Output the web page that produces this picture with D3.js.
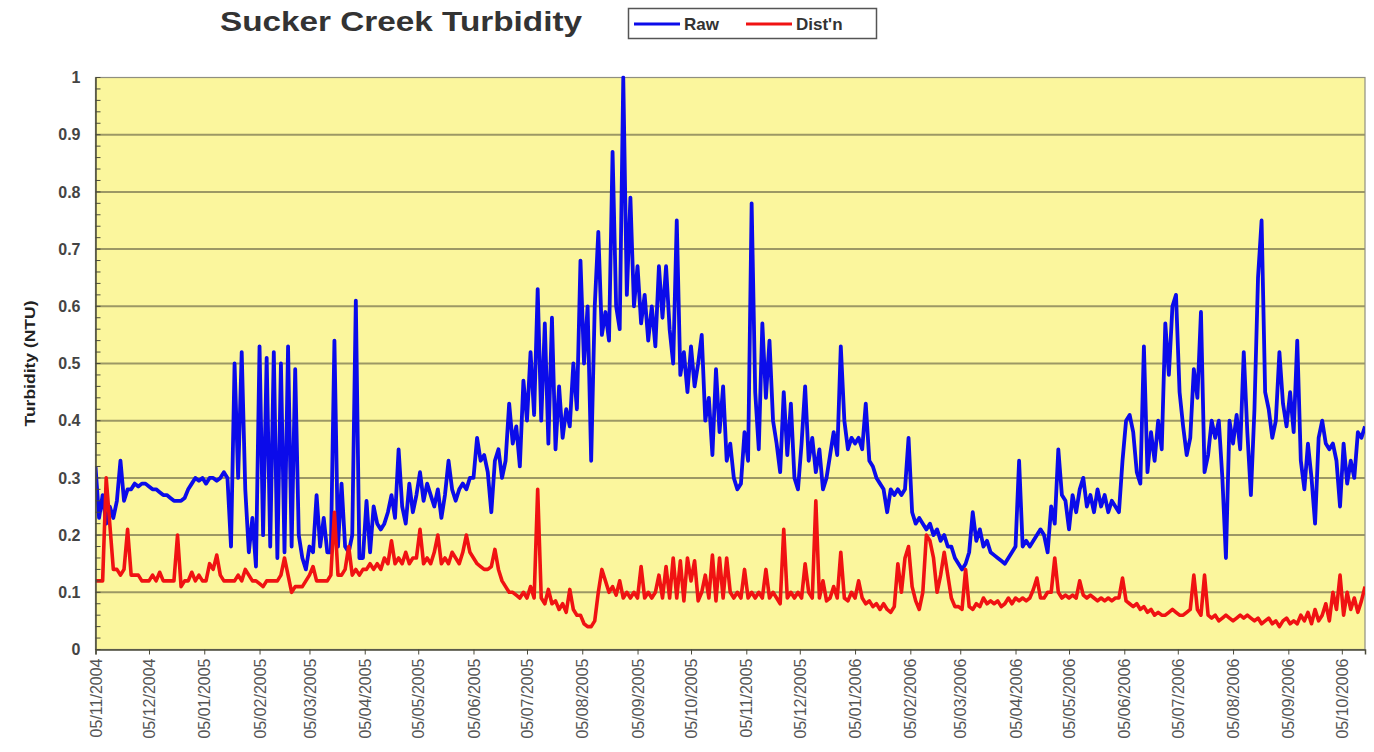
<!DOCTYPE html>
<html>
<head>
<meta charset="utf-8">
<script src="https://cdn.jsdelivr.net/npm/d3@7"></script>
<style>
  html, body { margin: 0; padding: 0; background: #ffffff; }
  svg { display: block; }
  text { font-family: "Liberation Sans", Arial, sans-serif; }
</style>
</head>
<body>
<svg id="chart" width="1374" height="752"></svg>
<script>
// Sucker Creek turbidity (NTU), readings every second day from 05/11/2004
const startDate = new Date(2004, 10, 5);
const stepDays = 2;
const endDate = new Date(2006, 9, 18);

const rawTurbidity = [
  0.32, 0.23, 0.27, 0.22, 0.25, 0.23, 0.26, 0.33, 0.26, 0.28, 0.28, 0.29, 0.285, 0.29, 0.29,
  0.285, 0.28, 0.28, 0.275, 0.27, 0.27, 0.265, 0.26, 0.26, 0.26, 0.265, 0.28, 0.29, 0.30, 0.295,
  0.30, 0.29, 0.30, 0.30, 0.295, 0.30, 0.31, 0.30, 0.18, 0.50, 0.30, 0.52, 0.28, 0.17, 0.23,
  0.145, 0.53, 0.20, 0.51, 0.18, 0.52, 0.16, 0.50, 0.17, 0.53, 0.18, 0.49, 0.20, 0.16, 0.14,
  0.18, 0.17, 0.27, 0.18, 0.23, 0.17, 0.17, 0.54, 0.18, 0.29, 0.18, 0.17, 0.20, 0.61, 0.16,
  0.16, 0.26, 0.17, 0.25, 0.22, 0.21, 0.22, 0.24, 0.27, 0.23, 0.35, 0.25, 0.22, 0.29, 0.24,
  0.27, 0.31, 0.26, 0.29, 0.27, 0.25, 0.28, 0.23, 0.27, 0.33, 0.28, 0.26, 0.28, 0.29, 0.28,
  0.30, 0.30, 0.37, 0.33, 0.34, 0.31, 0.24, 0.33, 0.35, 0.30, 0.33, 0.43, 0.36, 0.39, 0.32,
  0.47, 0.40, 0.52, 0.41, 0.63, 0.40, 0.57, 0.36, 0.58, 0.35, 0.46, 0.37, 0.42, 0.39, 0.50,
  0.42, 0.68, 0.50, 0.60, 0.33, 0.60, 0.73, 0.55, 0.59, 0.54, 0.87, 0.60, 0.56, 1.00, 0.62,
  0.79, 0.60, 0.67, 0.57, 0.62, 0.54, 0.60, 0.53, 0.67, 0.58, 0.67, 0.56, 0.50, 0.75, 0.48,
  0.52, 0.45, 0.53, 0.46, 0.50, 0.55, 0.40, 0.44, 0.34, 0.49, 0.38, 0.46, 0.33, 0.36, 0.30,
  0.28, 0.29, 0.38, 0.33, 0.78, 0.45, 0.35, 0.57, 0.44, 0.54, 0.40, 0.36, 0.31, 0.45, 0.34,
  0.43, 0.30, 0.28, 0.36, 0.46, 0.33, 0.37, 0.31, 0.35, 0.28, 0.30, 0.34, 0.38, 0.34, 0.53,
  0.40, 0.35, 0.37, 0.36, 0.37, 0.35, 0.43, 0.33, 0.32, 0.30, 0.29, 0.28, 0.24, 0.28, 0.27,
  0.28, 0.27, 0.28, 0.37, 0.24, 0.22, 0.23, 0.22, 0.21, 0.22, 0.20, 0.21, 0.19, 0.20, 0.18,
  0.18, 0.16, 0.15, 0.14, 0.15, 0.17, 0.24, 0.19, 0.21, 0.18, 0.19, 0.17, 0.165, 0.16, 0.155,
  0.15, 0.16, 0.17, 0.18, 0.33, 0.18, 0.19, 0.18, 0.19, 0.20, 0.21, 0.20, 0.17, 0.25, 0.22,
  0.35, 0.27, 0.26, 0.21, 0.27, 0.24, 0.28, 0.30, 0.25, 0.27, 0.24, 0.28, 0.25, 0.27, 0.24,
  0.26, 0.25, 0.24, 0.33, 0.40, 0.41, 0.38, 0.31, 0.29, 0.53, 0.31, 0.38, 0.33, 0.40, 0.35,
  0.57, 0.48, 0.60, 0.62, 0.45, 0.39, 0.34, 0.37, 0.49, 0.44, 0.59, 0.31, 0.34, 0.40, 0.37,
  0.40, 0.30, 0.16, 0.40, 0.36, 0.41, 0.35, 0.52, 0.38, 0.27, 0.42, 0.65, 0.75, 0.45, 0.42,
  0.37, 0.40, 0.52, 0.43, 0.39, 0.45, 0.38, 0.54, 0.33, 0.28, 0.36, 0.30, 0.22, 0.37, 0.40,
  0.36, 0.35, 0.36, 0.33, 0.25, 0.36, 0.29, 0.33, 0.30, 0.38, 0.37, 0.39
];

const distTurbidity = [
  0.12, 0.12, 0.12, 0.30, 0.22, 0.14, 0.14, 0.13, 0.14, 0.21, 0.13, 0.13, 0.13, 0.12, 0.12,
  0.12, 0.13, 0.12, 0.135, 0.12, 0.12, 0.12, 0.12, 0.20, 0.11, 0.12, 0.12, 0.135, 0.12, 0.13,
  0.12, 0.12, 0.15, 0.14, 0.165, 0.13, 0.12, 0.12, 0.12, 0.12, 0.13, 0.12, 0.14, 0.13, 0.12,
  0.12, 0.115, 0.11, 0.12, 0.12, 0.12, 0.12, 0.13, 0.16, 0.13, 0.10, 0.11, 0.11, 0.11, 0.12,
  0.13, 0.145, 0.12, 0.12, 0.12, 0.12, 0.13, 0.24, 0.13, 0.13, 0.14, 0.18, 0.13, 0.14, 0.13,
  0.14, 0.14, 0.15, 0.14, 0.15, 0.14, 0.16, 0.15, 0.19, 0.15, 0.16, 0.15, 0.17, 0.15, 0.16,
  0.16, 0.21, 0.15, 0.16, 0.15, 0.17, 0.20, 0.15, 0.16, 0.15, 0.17, 0.16, 0.15, 0.17, 0.20,
  0.17, 0.16, 0.15, 0.145, 0.14, 0.14, 0.145, 0.175, 0.14, 0.12, 0.11, 0.10, 0.10, 0.095, 0.09,
  0.10, 0.09, 0.11, 0.09, 0.28, 0.09, 0.08, 0.105, 0.08, 0.085, 0.07, 0.08, 0.065, 0.105, 0.07,
  0.06, 0.06, 0.045, 0.04, 0.04, 0.05, 0.10, 0.14, 0.12, 0.10, 0.11, 0.095, 0.12, 0.09, 0.10,
  0.09, 0.10, 0.09, 0.145, 0.09, 0.10, 0.09, 0.10, 0.13, 0.09, 0.145, 0.09, 0.16, 0.09, 0.155,
  0.085, 0.16, 0.12, 0.155, 0.085, 0.10, 0.13, 0.09, 0.165, 0.085, 0.16, 0.09, 0.16, 0.10, 0.09,
  0.10, 0.09, 0.14, 0.09, 0.10, 0.09, 0.10, 0.09, 0.14, 0.09, 0.10, 0.09, 0.08, 0.21, 0.09,
  0.10, 0.09, 0.10, 0.09, 0.15, 0.10, 0.09, 0.26, 0.09, 0.12, 0.085, 0.09, 0.11, 0.09, 0.17,
  0.09, 0.085, 0.10, 0.09, 0.12, 0.09, 0.08, 0.085, 0.075, 0.08, 0.07, 0.08, 0.07, 0.065, 0.075,
  0.15, 0.10, 0.16, 0.18, 0.11, 0.085, 0.07, 0.10, 0.20, 0.19, 0.16, 0.10, 0.13, 0.17, 0.13,
  0.09, 0.075, 0.075, 0.07, 0.14, 0.075, 0.07, 0.08, 0.075, 0.09, 0.08, 0.085, 0.08, 0.085, 0.075,
  0.08, 0.09, 0.08, 0.09, 0.085, 0.09, 0.085, 0.09, 0.105, 0.125, 0.09, 0.09, 0.10, 0.10, 0.16,
  0.10, 0.09, 0.095, 0.09, 0.095, 0.09, 0.12, 0.095, 0.09, 0.095, 0.09, 0.085, 0.09, 0.085, 0.09,
  0.085, 0.09, 0.09, 0.125, 0.085, 0.08, 0.075, 0.08, 0.07, 0.075, 0.065, 0.07, 0.06, 0.065, 0.06,
  0.06, 0.065, 0.07, 0.065, 0.06, 0.06, 0.065, 0.07, 0.13, 0.07, 0.06, 0.13, 0.06, 0.055, 0.06,
  0.05, 0.055, 0.06, 0.055, 0.05, 0.055, 0.06, 0.055, 0.06, 0.055, 0.05, 0.055, 0.045, 0.05, 0.055,
  0.045, 0.05, 0.04, 0.05, 0.055, 0.045, 0.05, 0.045, 0.06, 0.05, 0.065, 0.045, 0.07, 0.05, 0.06,
  0.08, 0.05, 0.10, 0.07, 0.13, 0.06, 0.10, 0.07, 0.09, 0.065, 0.085, 0.11
];

const yTickValues = [0, 0.1, 0.2, 0.3, 0.4, 0.5, 0.6, 0.7, 0.8, 0.9, 1];
const monthTickCount = 24;

const titleText = "Sucker Creek Turbidity";
const yAxisTitle = "Turbidity (NTU)";
const seriesNames = ["Raw", "Dist'n"];
const seriesColors = ["#0b0bea", "#f01212"];

// ---- layout ----
const plot = { left: 95.5, right: 1365, top: 77.5, bottom: 649.5 };

const svg = d3.select("#chart");

const x = d3.scaleTime().domain([startDate, endDate]).range([plot.left, plot.right]);
const y = d3.scaleLinear().domain([0, 1]).range([plot.bottom, plot.top]);

const dateAt = i => d3.timeDay.offset(startDate, i * stepDays);
const rawPoints = rawTurbidity.map((v, i) => ({ date: dateAt(i), value: v }));
const distPoints = distTurbidity.map((v, i) => ({ date: dateAt(i), value: v }));

// plot background
svg.append("rect")
  .attr("x", plot.left).attr("y", plot.top)
  .attr("width", plot.right - plot.left).attr("height", plot.bottom - plot.top)
  .attr("fill", "#fbf69d");

// horizontal gridlines
svg.append("g")
  .selectAll("line")
  .data(yTickValues.filter(v => v > 0 && v < 1))
  .join("line")
  .attr("x1", plot.left).attr("x2", plot.right)
  .attr("y1", d => y(d)).attr("y2", d => y(d))
  .attr("stroke", "#9c9865").attr("stroke-width", 2);

// plot frame
svg.append("rect")
  .attr("x", plot.left).attr("y", plot.top)
  .attr("width", plot.right - plot.left).attr("height", plot.bottom - plot.top)
  .attr("fill", "none").attr("stroke", "#8f8f80").attr("stroke-width", 1.2);

// data lines, clipped to the plot
svg.append("clipPath").attr("id", "plotClip")
  .append("rect")
  .attr("x", plot.left).attr("y", plot.top - 2)
  .attr("width", plot.right - plot.left).attr("height", plot.bottom - plot.top + 2);

const line = d3.line().x(d => x(d.date)).y(d => y(d.value));
const lines = svg.append("g").attr("clip-path", "url(#plotClip)");
lines.append("path").datum(rawPoints)
  .attr("d", line).attr("fill", "none")
  .attr("stroke", seriesColors[0]).attr("stroke-width", 3.8)
  .attr("stroke-linejoin", "round");
lines.append("path").datum(distPoints)
  .attr("d", line).attr("fill", "none")
  .attr("stroke", seriesColors[1]).attr("stroke-width", 3.6)
  .attr("stroke-linejoin", "round");

// y axis with minor ticks every 0.02
const yAxis = d3.axisLeft(y).tickValues(yTickValues).tickSize(0).tickPadding(15)
  .tickFormat(d => d === 0 || d === 1 ? d3.format("d")(d) : d3.format(".1f")(d));
const yAxisG = svg.append("g").attr("transform", `translate(${plot.left},0)`).call(yAxis);
yAxisG.select(".domain").attr("stroke", "#4a4a3a").attr("stroke-width", 1.5);
yAxisG.selectAll("text")
  .attr("font-size", 16).attr("fill", "#444").attr("font-weight", "bold");

svg.append("g").selectAll("line")
  .data(d3.range(0, 51).map(k => k / 50))
  .join("line")
  .attr("x1", plot.left).attr("x2", plot.left + 5)
  .attr("y1", d => y(d)).attr("y2", d => y(d))
  .attr("stroke", "#4a4a3a").attr("stroke-width", 1);

// x axis: monthly ticks on the 5th
const monthTicks = d3.range(monthTickCount).map(k => d3.timeMonth.offset(startDate, k));
const xAxis = d3.axisBottom(x).tickValues(monthTicks).tickSize(5).tickPadding(6)
  .tickFormat(d3.timeFormat("%d/%m/%Y"));
const xAxisG = svg.append("g").attr("transform", `translate(0,${plot.bottom})`).call(xAxis);
xAxisG.select(".domain").attr("stroke", "#4a4a3a").attr("stroke-width", 1.5);
xAxisG.selectAll(".tick line").attr("stroke", "#4a4a3a");
xAxisG.selectAll("text")
  .attr("font-size", 16).attr("fill", "#555")
  .attr("text-anchor", "end")
  .attr("transform", "rotate(-90)")
  .attr("x", -9).attr("y", 0).attr("dy", "0.35em");

// y axis title
svg.append("text")
  .attr("transform", `translate(35,${(plot.top + plot.bottom) / 2}) rotate(-90)`)
  .attr("text-anchor", "middle")
  .attr("font-size", 15).attr("font-weight", "bold").attr("fill", "#222")
  .attr("textLength", 126).attr("lengthAdjust", "spacingAndGlyphs")
  .text(yAxisTitle);

// chart title
svg.append("text")
  .attr("x", 220).attr("y", 31)
  .attr("font-size", 27).attr("font-weight", "bold").attr("fill", "#333")
  .attr("textLength", 362).attr("lengthAdjust", "spacingAndGlyphs")
  .text(titleText);

// legend
const legend = svg.append("g");
legend.append("rect")
  .attr("x", 628.5).attr("y", 8.5).attr("width", 248).attr("height", 30)
  .attr("fill", "#fff").attr("stroke", "#555").attr("stroke-width", 1.5);
const legendItems = [
  { name: seriesNames[0], color: seriesColors[0], lx: 634, tx: 684 },
  { name: seriesNames[1], color: seriesColors[1], lx: 746, tx: 796 }
];
legendItems.forEach(it => {
  legend.append("line")
    .attr("x1", it.lx).attr("x2", it.lx + 46).attr("y1", 24).attr("y2", 24)
    .attr("stroke", it.color).attr("stroke-width", 3);
  legend.append("text")
    .attr("x", it.tx).attr("y", 30)
    .attr("font-size", 17).attr("font-weight", "bold").attr("fill", "#333")
    .text(it.name);
});
</script>
</body>
</html>
